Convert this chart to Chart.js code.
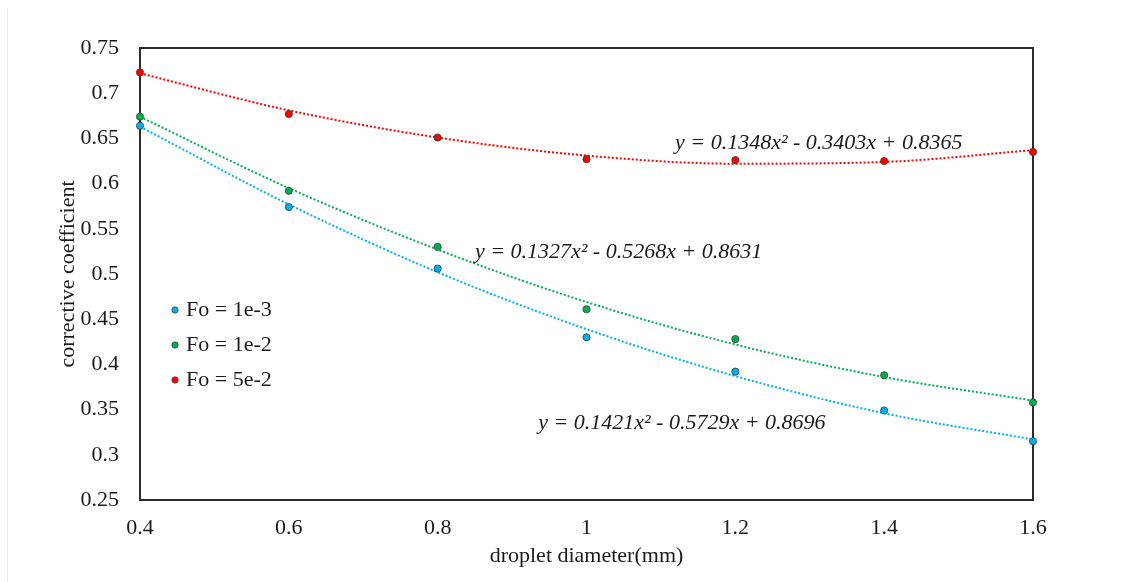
<!DOCTYPE html>
<html>
<head>
<meta charset="utf-8">
<script src="https://cdn.jsdelivr.net/npm/chart.js@4.4.1/dist/chart.umd.min.js"></script>
<style>
  html, body { margin: 0; padding: 0; background: #fff; }
  #wrap { position: relative; width: 1144px; height: 582px; }
</style>
</head>
<body>
<div id="wrap"><canvas id="c" width="1144" height="582"></canvas></div>
<script>
// ---- data ----
const diameters = [0.4, 0.6, 0.8, 1.0, 1.2, 1.4, 1.6];
const seriesNames = ['Fo = 1e-3', 'Fo = 1e-2', 'Fo = 5e-2'];
const fo1e3 = [0.664, 0.574, 0.506, 0.430, 0.392, 0.349, 0.315];
const fo1e2 = [0.674, 0.592, 0.530, 0.461, 0.428, 0.388, 0.358];
const fo5e2 = [0.723, 0.677, 0.651, 0.627, 0.626, 0.625, 0.635];
// trendline values
const trend1e3 = [0.663, 0.577, 0.502, 0.439, 0.387, 0.346, 0.317];
const trend1e2 = [0.674, 0.595, 0.527, 0.469, 0.422, 0.386, 0.360];
const trend5e2 = [0.722, 0.681, 0.651, 0.631, 0.622, 0.624, 0.637];
const equations = [
  'y = 0.1421x² - 0.5729x + 0.8696',
  'y = 0.1327x² - 0.5268x + 0.8631',
  'y = 0.1348x² - 0.3403x + 0.8365'
];
// label anchor (x value, y value) for each equation
const eqAnchorX = [0.935, 0.850, 1.119];
const eqAnchorY = [0.335, 0.524, 0.645];
const yTicks = [0.25, 0.3, 0.35, 0.4, 0.45, 0.5, 0.55, 0.6, 0.65, 0.7, 0.75];
const xTicks = [0.4, 0.6, 0.8, 1.0, 1.2, 1.4, 1.6];

const colors = ['#00B0F0', '#00B050', '#FF0000'];
const SERIF = '"Liberation Serif", "Times New Roman", serif';
const FS = 22;

const pts = (vals) => diameters.map((x, i) => ({ x: x, y: vals[i] }));

const pointSets = [fo1e3, fo1e2, fo5e2];
const trendSets = [trend1e3, trend1e2, trend5e2];

const datasets = [];
trendSets.forEach((t, i) => {
  datasets.push({
    label: 'trend ' + seriesNames[i],
    data: pts(t),
    showLine: true,
    borderColor: colors[i],
    borderWidth: 2,
    borderDash: [2, 2],
    pointRadius: 0,
    cubicInterpolationMode: 'monotone',
    fill: false,
    clip: false,
    order: 2
  });
});
pointSets.forEach((p, i) => {
  datasets.push({
    label: seriesNames[i],
    data: pts(p),
    showLine: false,
    backgroundColor: colors[i],
    borderColor: '#3a3a3a',
    borderWidth: 0.8,
    pointRadius: 3.6,
    clip: false,
    order: 1
  });
});

const decor = {
  id: 'decor',
  beforeDatasetsDraw(chart) {
    const ctx = chart.ctx;
    const a = chart.chartArea;
    ctx.save();
    // faint outer edge
    ctx.strokeStyle = '#ececec';
    ctx.lineWidth = 1;
    ctx.beginPath();
    ctx.moveTo(7.5, 8); ctx.lineTo(7.5, 582);
    ctx.stroke();
    // plot box
    ctx.strokeStyle = '#2b2b2b';
    ctx.lineWidth = 2;
    ctx.strokeRect(a.left, a.top, a.right - a.left, a.bottom - a.top);
    ctx.restore();
  },
  afterDatasetsDraw(chart) {
    const ctx = chart.ctx;
    const xs = chart.scales.x, ys = chart.scales.y;
    ctx.save();
    // equations
    ctx.fillStyle = '#1a1a1a';
    ctx.font = 'italic ' + FS + 'px ' + SERIF;
    ctx.textBaseline = 'middle';
    ctx.textAlign = 'left';
    equations.forEach((eq, i) => {
      ctx.fillText(eq, xs.getPixelForValue(eqAnchorX[i]), ys.getPixelForValue(eqAnchorY[i]));
    });
    // legend
    ctx.font = FS + 'px ' + SERIF;
    const lx = 175, ly0 = 310, dy = 35;
    seriesNames.forEach((n, i) => {
      const y = ly0 + i * dy;
      ctx.beginPath();
      ctx.arc(lx, y, 3.2, 0, Math.PI * 2);
      ctx.fillStyle = colors[i];
      ctx.fill();
      ctx.lineWidth = 0.7;
      ctx.strokeStyle = '#3a3a3a';
      ctx.stroke();
      ctx.fillStyle = '#1a1a1a';
      ctx.fillText(n, lx + 11, y);
    });
    ctx.restore();
  }
};

new Chart(document.getElementById('c'), {
  type: 'scatter',
  data: { datasets },
  options: {
    responsive: false,
    animation: false,
    devicePixelRatio: 1,
    layout: { padding: { left: 0, right: 111, top: 48, bottom: 0 } },
    plugins: { legend: { display: false }, tooltip: { enabled: false } },
    scales: {
      x: {
        type: 'linear',
        min: 0.4, max: 1.6,
        afterBuildTicks: (s) => { s.ticks = xTicks.map(v => ({ value: v })); },
        afterFit: (s) => { s.height = 82; },
        grid: { display: false, drawTicks: false },
        border: { display: false },
        ticks: {
          padding: 15,
          color: '#1a1a1a',
          font: { family: SERIF, size: FS },
          callback: (v) => String(Math.round(v * 10) / 10)
        },
        title: {
          display: true,
          text: 'droplet diameter(mm)',
          color: '#1a1a1a',
          font: { family: SERIF, size: FS },
          padding: { top: 0, bottom: 13 }
        }
      },
      y: {
        type: 'linear',
        min: 0.25, max: 0.75,
        afterBuildTicks: (s) => { s.ticks = yTicks.map(v => ({ value: v })); },
        afterFit: (s) => { s.width = 140; },
        grid: { display: false, drawTicks: false },
        border: { display: false },
        ticks: {
          padding: 21,
          color: '#1a1a1a',
          font: { family: SERIF, size: FS },
          callback: (v) => String(Math.round(v * 100) / 100)
        },
        title: {
          display: true,
          text: 'corrective coefficient',
          color: '#1a1a1a',
          font: { family: SERIF, size: FS },
          padding: { top: 55, bottom: 0 }
        }
      }
    }
  },
  plugins: [decor]
});
</script>
</body>
</html>
